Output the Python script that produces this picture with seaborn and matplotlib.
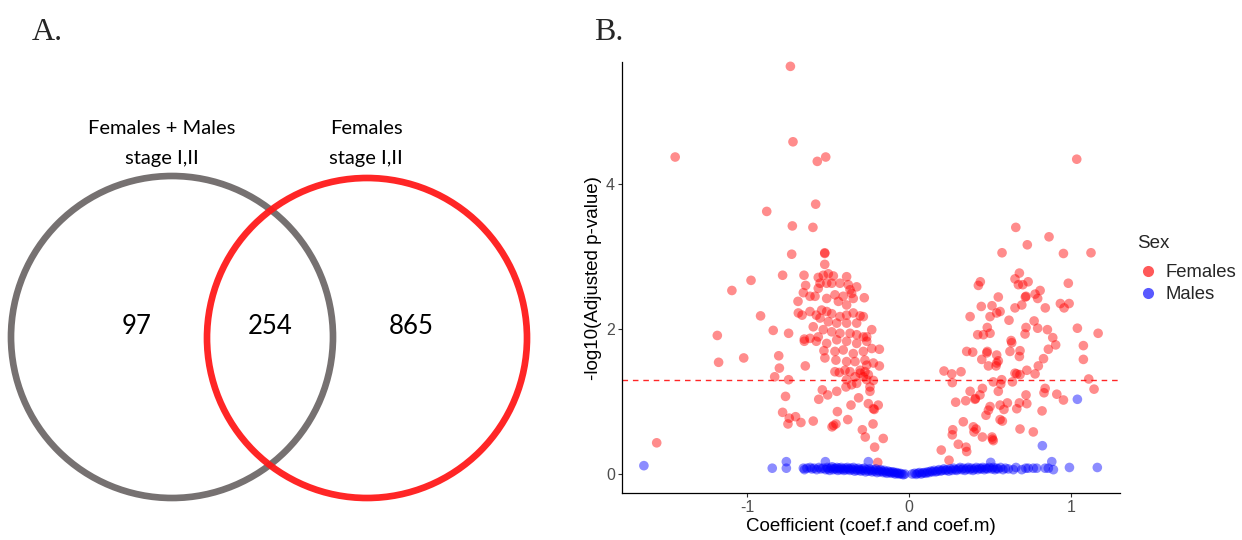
import numpy as np
import pandas as pd
import matplotlib
matplotlib.use("Agg")
import matplotlib.pyplot as plt
from matplotlib.patches import Circle
from matplotlib.lines import Line2D
import seaborn as sns

# ---------------- data ----------------
venn_labels = ["Females + Males\nstage I,II", "Females\nstage I,II"]
venn_counts = [97, 254, 865]  # only left, both, only right

fem_coef = [
    -0.732, -1.443, -0.716, -0.566, -0.514, 1.035,
    -0.576, -0.878, -0.720, -0.593, -0.724, -0.520, -0.520, -0.520, -0.780, -0.648,
    -0.975, -1.093, -0.638, -0.652, -0.916, -0.838, -0.743, -1.183, -0.685, -0.683, -0.660,
    -0.560, -0.529, -0.498, -0.467, -0.549, -0.508, -0.477, -0.560, -0.385, -0.375,
    -0.323, -0.354, -0.406, -0.457, -0.508, -0.611, -0.580, -0.436, -0.385, -0.344,
    -0.276, -0.364, -0.426, -0.539, -0.508, -0.572, -0.477, -0.426, -0.385, -0.344,
    -0.302, -0.282, -0.323, -0.385, -0.446, -0.498, -0.549, -0.611, -0.591, -0.529,
    -0.477, -0.426, -0.364, -0.323, -0.282, -0.230, -0.261, -0.560, -0.611, -0.646,
    -1.175, -1.020, -0.804, -0.800, -0.829, -0.743, -0.640, -0.762, -0.780, -0.739,
    -0.700, -0.747, -0.667, -0.591, -0.557, -0.502, -0.535, -0.446, -0.442, -0.378,
    -0.451, -0.475, -0.466, -0.358, -0.311, -0.251, -0.220, -0.190, -0.214, -0.288,
    -0.270, -0.222, -0.159, -0.212, -0.193,
    -0.646, -0.572, -0.508, -0.446, -0.385, -0.323, -0.261, -0.230, -0.183, -0.525,
    -0.457, -0.406, -0.344, -0.282, -0.519, -0.451, -0.385, -0.333, -0.272, -0.220,
    -0.183, -0.395, -0.364, -0.457, -0.430, -0.302, -0.272, -0.251, -0.282, -0.333,
    -0.261, -0.220, -0.323, -0.241, -0.241, -0.385, -0.389, -0.354, -0.302, -0.261,
    -1.557,
    0.659, 0.864, 0.730, 0.574, 0.953, 1.123, 0.681, 0.654, 0.675, 0.702, 0.735, 0.440,
    0.428, 0.983, 0.718, 0.722, 0.778, 0.809, 0.794, 0.551, 0.446, 0.512, 0.696, 0.654,
    0.562, 0.541, 0.500, 0.377, 0.617, 0.841, 0.934, 0.957, 0.988, 0.772, 0.722, 0.794,
    0.854, 1.039, 1.167, 0.483, 0.424, 0.459, 0.500, 0.716, 0.887, 0.630,
    0.905, 0.634, 0.623, 0.685, 0.681, 0.860, 0.830, 1.076, 1.076, 0.356, 0.393, 0.483,
    0.480, 0.449, 0.541, 0.551, 0.541, 0.490, 0.537, 0.798, 0.727, 0.778, 0.654, 0.685,
    0.665, 0.638, 0.216, 0.264, 0.321, 0.267, 0.520, 0.566, 0.572, 0.551, 0.377, 0.453,
    0.438, 0.407, 0.410, 0.350, 0.288, 0.607, 0.586, 0.562, 0.722, 0.727, 0.681, 0.665,
    0.840, 0.833, 0.912, 0.953, 0.821, 1.109, 1.142, 0.500, 0.490, 0.475, 0.562, 0.576,
    0.335, 0.397, 0.414, 0.401, 0.270, 0.267, 0.453, 0.512, 0.520, 0.515, 0.685, 0.767,
    0.304, 0.352, 0.356, 0.199, 0.247,
]
fem_logp = [
    5.62, 4.37, 4.58, 4.31, 4.37, 4.34,
    3.72, 3.62, 3.42, 3.40, 3.03, 3.05, 3.04, 2.89, 2.74, 2.74,
    2.67, 2.53, 2.60, 2.50, 2.18, 1.98, 1.94, 1.91, 2.38, 2.22, 2.19,
    2.71, 2.74, 2.76, 2.73, 2.63, 2.63, 2.63, 2.56, 2.72, 2.61,
    2.58, 2.49, 2.45, 2.47, 2.42, 2.45, 2.45, 2.38, 2.33, 2.42,
    2.43, 2.54, 2.63, 2.26, 2.24, 2.19, 2.21, 2.17, 2.19, 2.22,
    2.18, 2.17, 2.08, 2.08, 2.08, 2.10, 2.15, 2.24, 2.03, 1.99,
    1.96, 1.94, 1.94, 1.92, 1.89, 1.99, 1.89, 1.89, 1.87, 1.86,
    1.54, 1.60, 1.63, 1.46, 1.34, 1.30, 1.49, 1.07, 0.85, 0.77,
    0.79, 0.69, 0.71, 0.73, 1.03, 1.09, 1.16, 1.14, 0.86, 0.75,
    0.69, 0.65, 0.67, 0.95, 1.05, 0.97, 0.90, 0.95, 0.89, 0.61,
    0.51, 0.69, 0.49, 0.37, 0.16,
    1.83, 1.83, 1.80, 1.85, 1.83, 1.80, 1.83, 1.73, 1.72, 1.70,
    1.69, 1.71, 1.66, 1.69, 1.60, 1.57, 1.55, 1.55, 1.57, 1.53,
    1.49, 1.43, 1.41, 1.41, 1.40, 1.39, 1.41, 1.37, 1.34, 1.34,
    1.30, 1.29, 1.25, 1.20, 1.14, 1.30, 1.20, 1.23, 1.43, 1.50,
    0.43,
    3.40, 3.27, 3.16, 3.05, 3.04, 3.05, 2.77, 2.69, 2.61, 2.61, 2.65, 2.65,
    2.60, 2.63, 2.44, 2.45, 2.48, 2.53, 2.42, 2.44, 2.31, 2.32, 2.33, 2.29,
    2.24, 2.22, 2.17, 2.17, 2.12, 2.29, 2.35, 2.29, 2.35, 2.11, 2.02, 2.01,
    1.99, 2.01, 1.94, 2.02, 1.92, 1.92, 1.94, 1.93, 1.88, 1.84,
    1.78, 1.81, 1.69, 1.70, 1.62, 1.72, 1.59, 1.77, 1.58, 1.69, 1.68, 1.69,
    1.67, 1.58, 1.64, 1.56, 1.53, 1.49, 1.49, 1.49, 1.43, 1.38, 1.39, 1.37,
    1.38, 1.27, 1.42, 1.38, 1.41, 1.26, 1.27, 1.24, 1.30, 1.14, 1.14, 1.18,
    1.09, 1.03, 1.04, 1.01, 0.99, 0.98, 0.89, 0.95, 1.09, 0.97, 0.98, 0.90,
    1.18, 1.12, 1.10, 1.02, 0.87, 1.31, 1.17, 0.93, 0.88, 0.81, 0.75, 0.73,
    0.72, 0.65, 0.62, 0.58, 0.61, 0.54, 0.51, 0.51, 0.46, 0.48, 0.62, 0.58,
    0.41, 0.37, 0.31, 0.33, 0.19,
]

male_coef = [
    -1.636, -0.844, -0.757, -0.757, -0.652, -0.645, -0.630, -0.610, -0.600, -0.585,
    -0.570, -0.556, -0.545, -0.530, -0.516, -0.515, -0.505, -0.500, -0.490, -0.482,
    -0.475, -0.468, -0.460, -0.452, -0.445, -0.440, -0.432, -0.425, -0.418, -0.410,
    -0.402, -0.395, -0.388, -0.380, -0.372, -0.365, -0.358, -0.350, -0.342, -0.335,
    -0.328, -0.320, -0.312, -0.305, -0.298, -0.290, -0.283, -0.276, -0.268, -0.261,
    -0.251, -0.250, -0.243, -0.236, -0.228, -0.220, -0.212, -0.205, -0.198, -0.190,
    -0.182, -0.175, -0.168, -0.160, -0.152, -0.145, -0.137, -0.130, -0.122, -0.115,
    -0.107, -0.100, -0.092, -0.085, -0.078, -0.070, -0.062, -0.055, -0.045, -0.035,
    -0.025,
    0.020, 0.035, 0.045, 0.055, 0.065, 0.075, 0.085, 0.095, 0.105, 0.115,
    0.125, 0.135, 0.145, 0.155, 0.165, 0.175, 0.185, 0.195, 0.205, 0.215,
    0.225, 0.235, 0.245, 0.255, 0.265, 0.275, 0.285, 0.295, 0.305, 0.315,
    0.325, 0.335, 0.345, 0.355, 0.365, 0.375, 0.385, 0.395, 0.405, 0.415,
    0.425, 0.435, 0.445, 0.455, 0.465, 0.475, 0.485, 0.495, 0.504, 0.510,
    0.520, 0.530, 0.540, 0.550, 0.565, 0.580, 0.595, 0.613, 0.644, 0.660,
    0.696, 0.720, 0.736, 0.767, 0.788, 0.823, 0.840, 0.860, 0.881, 0.891,
    0.990, 1.039, 1.162,
]
male_logp = [
    0.115, 0.08, 0.17, 0.08, 0.08, 0.06, 0.08, 0.09, 0.07, 0.08,
    0.06, 0.09, 0.07, 0.08, 0.17, 0.06, 0.09, 0.07, 0.05, 0.08,
    0.10, 0.06, 0.08, 0.07, 0.09, 0.05, 0.08, 0.06, 0.09, 0.07,
    0.05, 0.08, 0.06, 0.09, 0.07, 0.05, 0.08, 0.06, 0.09, 0.04,
    0.07, 0.05, 0.08, 0.06, 0.04, 0.07, 0.05, 0.08, 0.03, 0.06,
    0.17, 0.04, 0.07, 0.05, 0.03, 0.06, 0.04, 0.07, 0.02, 0.05,
    0.03, 0.06, 0.04, 0.02, 0.05, 0.03, 0.01, 0.04, 0.02, 0.03,
    0.01, 0.03, 0.02, 0.00, 0.02, 0.01, 0.00, 0.01, 0.00, -0.01,
    0.00,
    0.00, 0.01, -0.005, 0.01, 0.02, 0.00, 0.015, 0.02, 0.01, 0.03,
    0.02, 0.04, 0.03, 0.05, 0.03, 0.04, 0.06, 0.04, 0.05, 0.07,
    0.05, 0.06, 0.04, 0.07, 0.05, 0.08, 0.06, 0.05, 0.07, 0.09,
    0.06, 0.08, 0.05, 0.07, 0.09, 0.06, 0.08, 0.05, 0.07, 0.09,
    0.06, 0.08, 0.07, 0.09, 0.06, 0.08, 0.07, 0.09, 0.16, 0.07,
    0.09, 0.06, 0.08, 0.07, 0.09, 0.06, 0.08, 0.07, 0.06, 0.09,
    0.06, 0.08, 0.08, 0.08, 0.08, 0.39, 0.08, 0.08, 0.17, 0.06,
    0.09, 1.03, 0.09,
]

p_threshold = 0.05
x_ticks = [-1, 0, 1]
y_ticks = [0, 2, 4]

# ---------------- figure ----------------
sns.set_theme(style="white")
plt.rcParams["font.family"] = ["Liberation Sans", "DejaVu Sans"]

W, H = 1242, 540
fig = plt.figure(figsize=(W / 100, H / 100), dpi=100)

# ---- Panel A: Venn diagram ----
axA = fig.add_axes([0, 0, 560 / W, 1])
axA.set_xlim(0, 560)
axA.set_ylim(540, 0)
axA.axis("off")
axA.add_patch(Circle((172, 337), 161, fill=False, ec="#767171", lw=4.8))
axA.add_patch(Circle((367, 338), 160, fill=False, ec="#FF1A1A", lw=4.8, alpha=0.95))
venn_font = dict(family=["Lato", "DejaVu Sans"], color="black", ha="center")
for cx, lab in zip([162, 366], venn_labels):
    line1, line2 = lab.split("\n")
    axA.text(cx, 134, line1, fontsize=14.5, va="baseline", **venn_font)
    axA.text(cx, 164, line2, fontsize=14.5, va="baseline", **venn_font)
for cx, cnt in zip([137, 270, 411], venn_counts):
    axA.text(cx, 327, str(cnt), fontsize=18.5, va="center", **venn_font)
fig.text(32 / W, 1 - 40 / H, "A.", family=["Liberation Serif"], fontsize=23, ha="left", va="baseline")
fig.text(594 / W, 1 - 40 / H, "B.", family=["Liberation Serif"], fontsize=23, ha="left", va="baseline")

# ---- Panel B: volcano ----
left, right, top, bottom = 621.7, 1120, 62, 493.3
axB = fig.add_axes([left / W, 1 - bottom / H, (right - left) / W, (bottom - top) / H])

df = pd.concat([
    pd.DataFrame({"coef": fem_coef, "logp": fem_logp, "Sex": "Females"}),
    pd.DataFrame({"coef": male_coef, "logp": male_logp, "Sex": "Males"}),
], ignore_index=True)

sns.scatterplot(data=df, x="coef", y="logp", hue="Sex",
                palette={"Females": "#FF0000", "Males": "#0000FF"},
                alpha=0.45, s=48, linewidth=0, ax=axB, clip_on=False, legend=False)
axB.axhline(-np.log10(p_threshold), color="#FF0000", lw=1.0, ls=(0, (4, 3.5)), alpha=0.85)

axB.set_xlim(-1.773, 1.302)
axB.set_ylim(-0.266, 5.68)
axB.set_xticks(x_ticks)
axB.set_xticklabels([f"{t}" for t in x_ticks])
axB.set_yticks(y_ticks)
axB.set_xlabel("Coefficient (coef.f and coef.m)", fontsize=13.5, color="black", labelpad=2)
axB.set_ylabel("-log10(Adjusted p-value)", fontsize=13.5, color="black", labelpad=3)
for side in ["top", "right"]:
    axB.spines[side].set_visible(False)
for side in ["left", "bottom"]:
    axB.spines[side].set_color("black")
    axB.spines[side].set_linewidth(0.9)
axB.tick_params(axis="both", direction="out", length=3, width=0.8, color="#333333",
                labelsize=11.5, labelcolor="#4D4D4D", pad=2, left=True, bottom=True)
axB.grid(False)

handles = [
    Line2D([], [], ls="", marker="o", markersize=8, markerfacecolor="#FF0000",
           markeredgewidth=0, alpha=0.65, label="Females"),
    Line2D([], [], ls="", marker="o", markersize=8, markerfacecolor="#0000FF",
           markeredgewidth=0, alpha=0.65, label="Males"),
]
leg = axB.legend(handles=handles, title="Sex", loc="center left",
                 bbox_to_anchor=(1.02, 0.52), frameon=False, fontsize=13.3,
                 title_fontsize=13.5, handletextpad=0.35, labelspacing=0.25,
                 borderaxespad=0, handlelength=1.2)
leg._legend_box.align = "left"
leg._legend_box.sep = 9

fig.savefig("out.png", dpi=100)
